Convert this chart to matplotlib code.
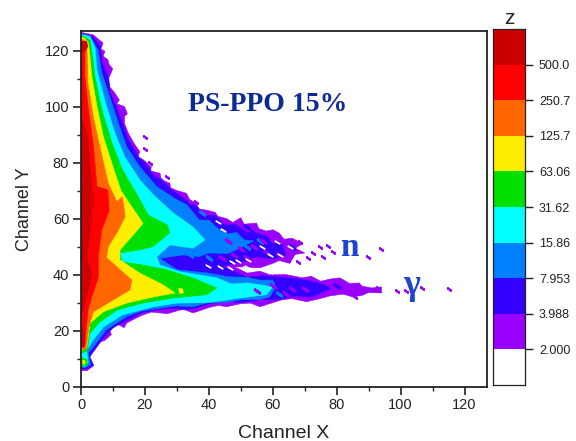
import matplotlib
matplotlib.use("Agg")
import matplotlib.pyplot as plt
import numpy as np
from matplotlib.colors import ListedColormap

plt.rcParams['font.family'] = ['Liberation Sans', 'DejaVu Sans']

z_labels = ['2.000', '3.988', '7.953', '15.86', '31.62', '63.06', '125.7', '250.7', '500.0']
band_colors = ['#ffffff', '#9900ff', '#3300ff', '#0080ff', '#00ffff', '#00e000',
               '#ffee00', '#ff6600', '#ff0000', '#cc0000']

# contour outlines, outer level first
level_2 = [(0,126.5),(3.9,125.6),(5.5,124),(6.9,122.7),(6.2,120.5),(7.5,119.8),(6.9,118),(8.4,116.8),(8.8,115),(9.9,113.6),(9.6,112.5),
           (8.6,110),(9,107),(10.5,105),(12,102.4),(11.2,101),(13.6,100),(14.5,97.5),(13.6,96.5),(13.6,94),(14.8,90.5),(16.5,87),
           (18.4,83.9),(17.8,82),(19.5,81),(22,78.5),(21.8,77),(24.7,76.2),(25,74.5),(26,73.5),(27.8,72.6),(28,71),(30,70),
           (33,69),(34,66.8),(36,65.5),(37,63.4),(39.3,63),(42,62.2),(42.8,60.8),(45.5,60),(47.5,58.6),(50,60.3),(51,58),
           (54.9,58.4),(55.6,56.4),(58,55.5),(60,56),(62,54.8),(63.5,52.6),(66,53),(69.4,51),(67,49.4),(70,47.7),(67,47.2),
           (65.3,44),(62,45),(60,44),(56,42.4),(48,42.8),(52,40.5),(56,41.2),(59,39.9),(64,40),(69.4,38.8),(72,39.4),(75,37.6),
           (78,38.4),(81,38.8),(84,36.8),(87,37),(88,35.8),(91,35.2),(94,35.6),(94,33.4),(90,33.6),(88,32.6),(85,32),(82,33),
           (78,32.4),(74,31.2),(70.6,30.3),(66,31.4),(63,31),(59,29.6),(56,28.5),(53,29.8),(50,29.6),(45.5,28.5),(43,29),
           (40,28.2),(37,27),(35,26.3),(32,27.6),(30,27),(27,26),(24.7,26.3),(22,26.6),(19,25.4),(16.5,24),(14.3,22.7),
           (13.5,21),(11.5,22.2),(9,20),(9.5,18.6),(7.5,16.5),(6.2,16),(4.9,14),(3.6,12),(2.2,10.6),(3.4,7),(1.8,5.6),(0,5.8)]
level_4 = [(0,126),(3.5,125),(6,121.5),(6.5,116),(8.7,110),(9,105),(11,100),(13,94),(14.5,89),(18,82),(20,80),(23,75),(25,74),(28,70.5),
           (33,66.5),(36,64.5),(39,61),(42,61),(45,57.5),(48,58),(52,55),(56,54.5),(60,51),(63,50.5),(64,47),(60,45.5),(55,46.5),(50,44.5),
           (44,43),(52,39),(57,39.6),(62,39),(67,38.6),(72,37.5),(76,36.4),(78,35),(74,33),(72,32),(67,32.4),(62,31),(56,31),(50,30),
           (45,30.6),(40,29.5),(36,28),(33,27.5),(28,28),(24,27.5),(19,26.4),(15,24),(10,21),(6,16),(3.5,12),(2.8,10.5),(4,7.5),
           (2,6.3),(0,6.3)]
level_8 = [(0,126),(2.8,125.4),(5.4,120),(6.5,112),(9,103.5),(11.7,94),(14.3,85.6),(18.4,78.5),(23.7,71.4),(30,66.7),
           (33,65),(37,59.5),(40,59.4),(43,56.3),(46,54.6),(48.7,55),(51,52.4),(54,52),(50,49.6),(46,47.5),(40,47.7),(37,46.4),(32,47),
           (24.7,45.8),(30,41.7),(36,41),(40,40.5),(46,39.2),(52,39),(56,38),(60,38),(61,35.6),(59,32),(56,31),(50,31),(45.5,30),
           (40,30),(35,28.5),(30,28.8),(24.7,28),(19,27),(14.3,25),(8,20.3),(3.8,14),(2.3,12),(3,7.7),(1.2,6.7),(0,7)]
level_16 = [(0,125.8),(0.7,125.5),(2.8,125),(4.4,121),(5,113),(7.5,102),(10.6,90.5),(13.7,82),(18.4,73.8),(22.6,68.5),
            (28.8,62),(35,57),(38.8,52.4),(35,49.4),(27.8,50.6),(23.7,46.3),(24.7,43.4),(31,41),(42.5,38.8),(47,36.6),(52,37),
            (60,35.6),(58,32.8),(49.7,31.6),(40,30),(30,29.8),(22.6,28.5),(13,25.6),(7,21.3),(3.8,16.6),(1.8,13),
            (2.2,8.5),(1,7),(0,8)]
level_32 = [(0,125.3),(0.8,125),(2.8,123.8),(3.4,120),(4.4,110.6),(6.5,99),(9.7,87),(13,77.4),(17.6,68.5),(21,61.3),
            (27,57.7),(27.8,54.9),(22.6,50),(18.4,48.8),(12.2,47.7),(12.9,44.5),(19.4,43.4),(26.9,41.7),(35,38.8),
            (42.5,35.2),(39.4,32.8),(28.8,31.6),(19.4,29.8),(11.3,27.3),(5.9,23),(2.8,19),(2.2,14.5),(1.8,12.5),(0,12)]
level_63 = [(0,124.8),(1,124.5),(2.2,123),(2.6,120),(3.4,110.6),(5,100),(7,89.2),(10,78.5),(12.5,70),(15.9,64.2),
            (19.4,58.3),(16.9,54.9),(12.2,48.8),(12.2,45.2),(18.4,40.5),(25.7,36.3),(29.4,33.4),(22.6,32),(14.3,29.8),
            (7,26.7),(2.8,22.6),(2.2,17),(1.8,14),(0,12.7)]
level_125 = [(0,124),(1,123.8),(1.9,123),(1.9,119),(2.2,108),(3.9,96),(5.9,85.6),(8.5,72.6),(11.2,66),(12.9,67.8),
             (13.8,60.7),(11.2,54.8),(8.5,50),(8,46),(15.9,38),(15.3,34.5),(9,30.2),(3.9,26.7),(2.4,21),(1.8,15),
             (1.4,13.5),(0,13)]
level_250 = [(0,123.3),(0.7,123),(1.4,122),(1.2,119),(1.2,110.6),(2.2,100),(3.9,85.6),(5,71.4),(8.4,70.2),(8.8,63),
             (6.5,56),(5.4,46.3),(5.4,39),(3.4,32),(2.2,27.3),(1.5,19),(1.2,14.2),(0,13.8)]
level_500 = [(0,97),(2.2,89),(2.8,78.5),(3.9,68),(3.4,60.7),(1.8,46),(3.4,40.5),(2.2,34.5),(0.7,27),(0,26)]
level_500_top = [(0.2,123.4),(1.8,123.4),(2.2,121.5),(1.4,119.8),(0.3,120)]
level_500_low = [(0,22.6),(1,20),(1.2,16),(0.8,14.2),(0,14.2)]
spot_green = [(0,10.4),(1.9,9.8),(2.1,7.9),(0.6,7.2),(0,7.6)]
spot_yellow = [(0.4,9.6),(1.4,9.2),(1.4,8),(0.5,7.9)]
spot_yellow2 = [(30.4,35.2),(31.8,35),(32.2,33.4),(30.8,33)]

outlines = [level_2, level_4, level_8, level_16, level_32, level_63, level_125, level_250, level_500]

# isolated purple specks around the lobes
speck_x = [20, 20, 21.5, 26.8, 34, 36, 68.4, 77.2, 78.8, 72.6, 75.6, 71, 67.8, 64.7, 89.7, 93.8, 74.7,
           99, 101.7, 106.6, 115, 92.8, 85.6]
speck_y = [89.3, 85, 79.8, 74.9, 66, 66, 51.6, 50.3, 48, 47.6, 46.4, 46, 44.5, 45.2, 46.4, 49.2, 50,
           34.2, 34.2, 35.2, 34.9, 35.2, 32]

# white slashes inside the purple n/gamma region
slash_x = [42.9, 44.4, 39.8, 43.4, 47.1, 46.6, 51.2, 52.2, 56.6, 61.2, 65.3, 59, 62.2, 59, 52, 49]
slash_y = [58.9, 56, 43, 42.7, 44.6, 42.4, 42.4, 45.2, 49.9, 51.7, 49.9, 47, 47, 41, 42.6, 45]

# mottling of the lobes
purple_x = [46, 50, 54, 58, 44, 48, 52, 57, 62, 66, 70, 60, 64, 55]
purple_y = [52, 49, 50, 48, 46, 47, 46, 52, 47, 35, 35, 36, 33, 34]
indigo_x = [54, 58, 62, 66, 66, 70, 74, 60, 80, 46, 52]
indigo_y = [55, 53, 51, 50, 36, 34, 36, 48, 36, 57, 57]
blue_x = [40, 44, 48, 52, 38, 34, 56, 62]
blue_y = [46, 50, 52, 50, 62, 47, 52, 33]

fig = plt.figure(figsize=(5.76, 4.41), dpi=100)
ax = fig.add_axes([81/576, 1-386.5/441, 406/576, 355.5/441])
for outline, col in zip(outlines, band_colors[1:]):
    pts = np.array(outline)
    ax.fill(pts[:, 0], pts[:, 1], color=col, lw=0.4)
for extra, col in [(level_500_top, band_colors[9]), (level_500_low, band_colors[9]),
                   (spot_green, band_colors[5]), (spot_yellow, band_colors[6]), (spot_yellow2, band_colors[6])]:
    pts = np.array(extra)
    ax.fill(pts[:, 0], pts[:, 1], color=col, lw=0)
ax.scatter(blue_x, blue_y, s=18, color=band_colors[3], marker=(2, 2, 55), lw=2)
ax.scatter(indigo_x, indigo_y, s=18, color=band_colors[2], marker=(2, 2, 55), lw=2)
ax.scatter(purple_x, purple_y, s=18, color=band_colors[1], marker=(2, 2, 55), lw=2)
ax.scatter(speck_x, speck_y, s=7, color=band_colors[1], marker=(2, 2, 55), lw=1.6)
ax.scatter(slash_x, slash_y, s=14, color='white', marker=(2, 2, 60), lw=1.0)

ax.set_xlim(0, 127)
ax.set_ylim(0, 127)
ax.set_xticks(np.arange(0, 121, 20))
ax.set_yticks(np.arange(0, 121, 20))
ax.set_xticks(np.arange(10, 121, 20), minor=True)
ax.set_yticks(np.arange(10, 121, 20), minor=True)
ax.tick_params(which='major', length=5.5, width=1.2, labelsize=10.5, color='#222222', labelcolor='#222222', pad=3)
ax.tick_params(which='minor', length=3, width=1.0, color='#222222')
for s in ax.spines.values():
    s.set_linewidth(1.3)
    s.set_color('#222222')
ax.set_xlabel('Channel X', fontsize=14, color='#222222', labelpad=9)
ax.set_ylabel('Channel Y', fontsize=13, color='#222222', labelpad=8)

ax.text(58.4, 100.6, 'PS-PPO 15%', family=['Liberation Serif'], weight='bold', fontsize=20, color='#0c2a96',
        ha='center', va='center')
ax.text(84, 49.5, 'n', family=['Liberation Serif'], weight='bold', fontsize=24, color='#1f45d0', ha='center', va='center')
ax.text(103.5, 36, 'γ', family=['Liberation Serif'], weight='bold', fontsize=26, color='#1f45d0', ha='center', va='center')

# colour bar
cax = fig.add_axes([493/576, 1-385/441, 32/576, 356/441])
cmap = ListedColormap(band_colors)
cax.pcolormesh([0, 1], np.arange(len(band_colors)+1), np.arange(len(band_colors)).reshape(-1, 1), cmap=cmap)
cax.set_xticks([])
cax.yaxis.tick_right()
cax.set_yticks(np.arange(1, len(band_colors)))
cax.set_yticklabels(z_labels)
cax.tick_params(length=6, width=1.0, labelsize=9, color='#222222', labelcolor='#222222', pad=4)
for s in cax.spines.values():
    s.set_linewidth(0.9)
    s.set_color('#222222')
fig.text(509/576, 1-18/441, 'z', fontsize=15, color='#222222', ha='center', va='center')

fig.savefig('out.png', dpi=100)
